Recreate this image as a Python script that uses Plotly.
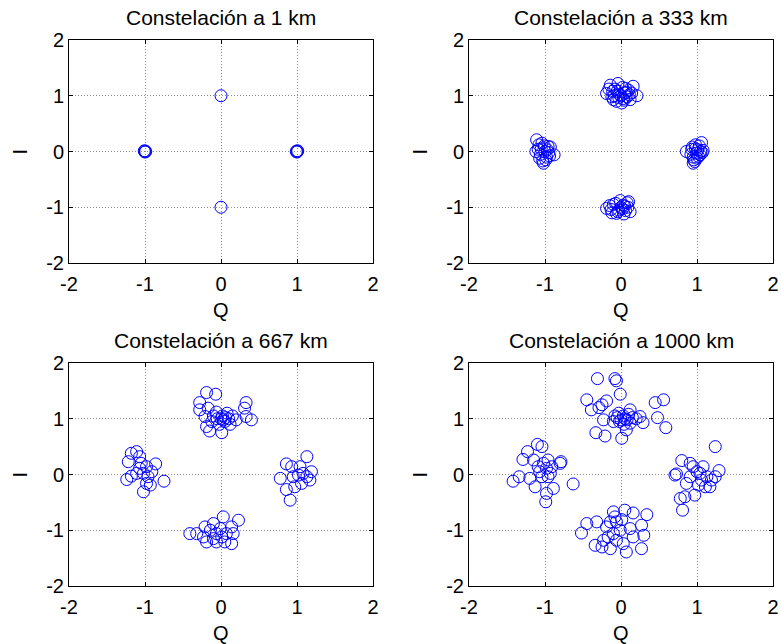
import plotly.graph_objects as go

# ---------------- data ----------------
titles = ["Constelación a 1 km", "Constelación a 333 km",
          "Constelación a 667 km", "Constelación a 1000 km"]
tick_vals = [-2, -1, 0, 1, 2]

# Panel 1 (1 km)
Q1 = [-1.01, -0.99, -1.0, -1.0, 1.01, 0.99, 1.0, 1.0, 0.0, 0.0]
I1 = [0.01, 0.0, -0.01, 0.01, 0.01, 0.0, -0.01, 0.01, 1.0, -1.0]

# Panel 2 (333 km)
Q2 = [-0.14, 0.16, 0.21, -0.10, 0.01, 0.12, -0.04, -0.19, 0.05, -0.05, 0.0, 0.08, -0.08, 0.03,
      -0.02, 0.10, -0.12, 0.14, -0.06, 0.06, -0.16, 0.02, -0.09, 0.11, 0.04, -0.03, 0.07, -0.11,
      -1.11, -0.88, -1.07, -1.02, -0.96, -1.05, -0.95, -1.0, -1.08, -0.98, -1.12, -0.93, -1.04,
      -0.99, -1.06, -0.97, -1.01, -1.09, -0.94, -1.03,
      1.06, 0.95, 0.86, 1.02, 0.98, 1.05, 0.92, 1.0, 1.08, 0.96, 0.94, 1.03, 0.97, 1.01, 0.99,
      1.04, 0.93, 0.98, 1.07, 0.95,
      0.10, -0.19, 0.12, -0.06, 0.0, -0.1, 0.05, -0.03, 0.08, -0.12, 0.02, -0.15, 0.04, -0.07,
      0.06, -0.01, -0.13, 0.09, -0.04, 0.03]
I2 = [1.19, 1.17, 1.00, 0.93, 0.87, 0.93, 1.22, 1.04, 1.05, 1.08, 1.0, 0.98, 1.12, 0.95,
      1.02, 1.1, 0.98, 1.05, 0.9, 1.13, 1.12, 1.15, 1.0, 1.02, 0.92, 0.97, 1.06, 1.08,
      0.21, -0.06, -0.12, -0.21, 0.09, 0.05, -0.02, 0.0, 0.12, -0.1, 0.0, 0.08, 0.15,
      -0.15, -0.05, 0.03, 0.1, 0.04, -0.08, -0.17,
      0.16, -0.21, 0.0, -0.09, 0.05, 0.0, -0.05, -0.12, 0.02, -0.15, 0.08, 0.1, -0.18, 0.03, -0.03,
      -0.06, 0.04, 0.12, -0.02, -0.1,
      -0.90, -1.02, -1.08, -1.11, -1.0, -0.95, -0.98, -1.05, -0.92, -1.1, -1.03, -0.97, -1.12, -0.93,
      -1.06, -0.88, -1.04, -1.0, -1.08, -0.96]

# Panel 3 (667 km)
Q3 = [-0.19, -0.07, -0.28, 0.33, 0.31, 0.40, 0.33, -0.19, -0.15, 0.01, -0.28, -0.17, -0.21,
      -0.05, 0.02, 0.05, -0.02, 0.10, 0.15, -0.10, 0.08, 0.20, -0.12, 0.0, 0.03, 0.12, 0.06, -0.06,
      -1.22, -1.18, -1.11, -1.07, -1.24, -1.18, -1.02, -0.93, -0.86, -0.75, -0.98, -1.07, -1.02, -1.11,
      -0.96, -0.98, -0.91, -1.05,
      1.13, 0.78, 0.86, 0.91, 0.86, 0.93, 1.02, 1.08, 1.17, 1.19, 1.06, 0.97, 1.13, 0.95, 1.04,
      0.03, 0.23, 0.14, -0.32, -0.41, -0.23, -0.19, -0.06, 0.05, 0.14, -0.10, -0.01, 0.07, -0.14,
      -0.06, 0.16, 0.01, -0.10, -0.21]
I3 = [1.47, 1.44, 1.29, 1.29, 1.19, 0.98, 1.04, 0.86, 0.78, 0.75, 1.16, 1.19, 1.04,
      1.00, 1.05, 0.95, 0.90, 1.00, 1.05, 1.05, 1.10, 0.98, 0.95, 1.00, 0.98, 0.90, 1.02, 1.12,
      0.23, 0.38, 0.41, 0.32, -0.09, -0.03, -0.31, -0.19, 0.19, -0.12, 0.14, 0.11, 0.02, 0.02,
      -0.04, -0.16, 0.05, 0.20,
      0.32, -0.07, 0.19, -0.46, -0.27, 0.14, -0.01, 0.02, -0.10, 0.05, -0.16, -0.22, -0.04, -0.04, 0.14,
      -0.76, -0.82, -0.94, -1.06, -1.06, -1.12, -1.21, -1.21, -1.21, -1.24, -0.88, -0.97, -1.06, -1.00,
      -1.06, -1.06, -1.12, -1.15, -0.94]

# Panel 4 (1000 km)
Q4 = [-0.31, -0.08, -0.06, -0.01, -0.45, -0.29, -0.25, -0.19, -0.39, 0.45, 0.56, 0.48, 0.59, -0.33, -0.21,
      0.01, -0.23, 0.25, 0.29, 0.12, 0.07,
      -0.05, 0.0, 0.03, -0.02, 0.05, -0.08, 0.08, 0.10, 0.15, -0.10, 0.20, 0.12, -0.03, 0.04,
      -1.10, -1.04, -1.42, -1.34, -1.29, -1.23, -1.20, -1.13, -0.99, -0.98, -0.89, -0.79, -0.80, -0.63,
      -1.15, -1.09, -1.02, -0.96, -0.93, -0.98, -1.04, -0.91, -1.07, -0.96,
      1.24, 1.29, 0.80, 0.71, 0.73, 0.91, 0.78, 0.81, 0.84, 0.97, 0.95, 1.08, 1.04, 1.13, 1.19, 1.11,
      1.02, 0.91, 0.86, 1.17, 1.24, 1.06, 1.00,
      0.34, 0.16, 0.05, -0.10, -0.08, -0.45, -0.52, -0.32, -0.14, -0.06, 0.01, 0.27, 0.30, 0.27, 0.07,
      0.03, -0.14, -0.25, -0.34, -0.23, 0.12, -0.01, -0.10, -0.19, 0.16, -0.06, -0.17]
I4 = [1.72, 1.72, 1.68, 1.44, 1.34, 1.20, 1.25, 1.32, 1.16, 1.29, 1.34, 1.02, 0.84, 0.75, 0.69,
      0.65, 0.98, 1.04, 0.93, 1.16, 0.80,
      1.02, 0.98, 1.05, 0.95, 1.00, 1.05, 0.98, 1.08, 1.02, 0.95, 1.00, 0.92, 1.10, 0.90,
      0.54, 0.50, -0.12, -0.04, 0.27, 0.41, -0.07, -0.22, -0.49, -0.34, -0.25, 0.23, 0.20, -0.17,
      0.26, 0.14, 0.20, 0.26, 0.02, 0.11, -0.04, 0.14, 0.05, -0.04,
      0.50, 0.07, 0.25, -0.01, 0.01, 0.20, -0.43, -0.64, -0.40, -0.37, 0.14, 0.14, 0.02, -0.04, -0.10, -0.22,
      -0.19, -0.04, -0.16, -0.22, -0.04, -0.10, 0.05,
      -0.72, -0.69, -0.64, -0.67, -0.76, -0.88, -1.05, -0.85, -0.85, -0.85, -0.81, -0.91, -1.09, -1.33, -1.39,
      -1.24, -1.33, -1.30, -1.27, -1.18, -0.97, -1.00, -1.06, -0.94, -1.12, -1.18, -1.12]

# ---------------- figure ----------------
W, H = 781, 644
panels = [(Q1, I1), (Q2, I2), (Q3, I3), (Q4, I4)]
# pixel boxes: (left, right, top, bottom)
boxes = [(69, 373, 40, 263), (469, 773, 40, 263), (69, 373, 363, 586), (469, 773, 363, 586)]

fig = go.Figure()
FONT = "Liberation Sans, Arial, sans-serif"
FS = 20
annotations = []
for k, ((q, i), (l, r, t, b)) in enumerate(zip(panels, boxes)):
    ax = "" if k == 0 else str(k + 1)
    fig.add_trace(go.Scatter(
        x=q, y=i, mode="markers", xaxis="x" + ax, yaxis="y" + ax,
        marker=dict(symbol="circle-open", size=12, color="#0000FF",
                    line=dict(width=1, color="#0000FF")),
        showlegend=False, hoverinfo="skip"))
    axis_common = dict(range=[-2, 2], tickvals=tick_vals, ticktext=[str(v) for v in tick_vals],
                       showgrid=True, gridcolor="#8c8c8c", griddash="1px,2px", gridwidth=1,
                       zeroline=False, showline=True, linecolor="black", linewidth=1,
                       mirror="ticks", ticks="inside", ticklen=4, tickcolor="black",
                       tickfont=dict(family=FONT, size=FS, color="black"),
                       automargin=False, fixedrange=True)
    fig.update_layout(**{
        "xaxis" + ax: dict(axis_common, domain=[l / W, r / W], anchor="y" + ax, ticklabelstandoff=3),
        "yaxis" + ax: dict(axis_common, domain=[1 - b / H, 1 - t / H], anchor="x" + ax),
    })
    cx = (l + r) / 2
    annotations.append(dict(text=titles[k], x=cx / W, y=1 - (t - 23) / H, xref="paper", yref="paper",
                            showarrow=False, font=dict(family=FONT, size=21, color="black"),
                            xanchor="center", yanchor="middle"))
    annotations.append(dict(text="Q", x=cx / W, y=1 - (b + 47) / H, xref="paper", yref="paper",
                            showarrow=False, font=dict(family=FONT, size=FS, color="black"),
                            xanchor="center", yanchor="middle"))
    annotations.append(dict(text="I", x=(l - 50) / W, y=1 - ((t + b) / 2) / H, xref="paper", yref="paper",
                            showarrow=False, textangle=-90, font=dict(family=FONT, size=FS, color="black"),
                            xanchor="center", yanchor="middle"))

fig.update_layout(width=W, height=H, margin=dict(l=0, r=0, t=0, b=0),
                  paper_bgcolor="white", plot_bgcolor="white",
                  annotations=annotations)
fig.write_html("out.html")
